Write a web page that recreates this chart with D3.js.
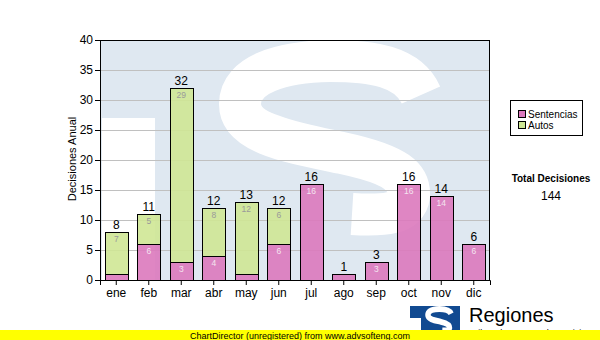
<!DOCTYPE html>
<html><head><meta charset="utf-8">
<script src="https://cdn.jsdelivr.net/npm/d3@7"></script>
<style>body{margin:0;background:#fff}svg{display:block}text{font-family:"Liberation Sans",Arial,sans-serif}</style>
</head><body><svg id="c" width="600" height="340"></svg>
<script>
const months = ["ene","feb","mar","abr","may","jun","jul","ago","sep","oct","nov","dic"];
const sentencias = [1,6,3,4,1,6,16,1,3,16,14,6];
const autos = [7,5,29,8,12,6,0,0,0,0,0,0];
const yTicks = [0,5,10,15,20,25,30,35,40];
const seriesNames = ["Sentencias","Autos"];
const totalLabel = "Total Decisiones";

const svg = d3.select("#c");
const L=100,R=490,T=40,B=280;
const x = d3.scaleBand().domain(months).range([L,R]).paddingInner(0.28).paddingOuter(0.14);
const y = d3.scaleLinear().domain([0,40]).range([B,T]);
const pink="#dc79bd", green="#cfe795";

// watermark
svg.append("clipPath").attr("id","pc").append("rect").attr("x",L).attr("y",T).attr("width",R-L).attr("height",B-T);
const wm = svg.append("g").attr("clip-path","url(#pc)");
wm.append("rect").attr("x",L).attr("y",T).attr("width",R-L).attr("height",B-T).attr("fill","#dfe8f1");
wm.append("rect").attr("x",L+2).attr("y",118).attr("width",53).attr("height",170).attr("fill","#fff");
const sPath="M421,95 C408,66 372,61 330,61 C282,62 240,74 240,104 C240,134 290,142 342,153 C398,165 410,178 409,196 C407,214 384,216 352,214";
wm.append("path").attr("d",sPath).attr("fill","none").attr("stroke","#fff").attr("stroke-width",42);

// grid
svg.append("g").selectAll("line").data(yTicks.filter(d=>d>0&&d<40)).join("line")
  .attr("x1",L).attr("x2",R).attr("y1",d=>y(d)+0.5).attr("y2",d=>y(d)+0.5)
  .attr("stroke","#c0c0c0").attr("stroke-width",1);

// bars
const data = months.map((m,i)=>({m,s:sentencias[i],a:autos[i],t:sentencias[i]+autos[i]}));
const g = svg.append("g");
data.forEach(d=>{
  const bx=Math.round(x(d.m))+0.5, bw=Math.round(x.bandwidth());
  if(d.a>0){
    g.append("rect").attr("x",bx).attr("y",Math.round(y(d.s+d.a))+0.5).attr("width",bw)
      .attr("height",Math.round(y(d.s))-Math.round(y(d.s+d.a))).attr("fill",green).attr("fill-opacity",0.9).attr("stroke","#000");
  }
  g.append("rect").attr("x",bx).attr("y",Math.round(y(d.s))+0.5).attr("width",bw)
    .attr("height",Math.round(y(0))-Math.round(y(d.s))).attr("fill",pink).attr("fill-opacity",0.9).attr("stroke","#000");
  const cx=x(d.m)+x.bandwidth()/2;
  if(d.s>=3) g.append("text").attr("x",cx).attr("y",y(d.s)+10).attr("text-anchor","middle")
    .attr("font-size",8.5).attr("fill","#f4e4f0").text(d.s);
  if(d.a>=3) g.append("text").attr("x",cx).attr("y",y(d.s+d.a)+10).attr("text-anchor","middle")
    .attr("font-size",8.5).attr("fill","#9a9a9a").text(d.a);
  g.append("text").attr("x",cx).attr("y",y(d.t)-3).attr("text-anchor","middle")
    .attr("font-size",12).attr("fill","#000").text(d.t);
});

// frame
svg.append("rect").attr("x",L+0.5).attr("y",T+0.5).attr("width",R-L-1).attr("height",B-T).attr("fill","none").attr("stroke","#000");

// axes
const ya = svg.append("g").attr("transform",`translate(${L},0)`).call(d3.axisLeft(y).tickValues(yTicks).tickSize(5).tickPadding(2));
const xa = svg.append("g").attr("transform",`translate(0,${B})`).call(d3.axisBottom(x).tickSize(5).tickPadding(3));
[ya,xa].forEach(a=>{a.select(".domain").attr("stroke","#000");a.selectAll("line").attr("stroke","#000");
  a.selectAll("text").attr("font-size",12).attr("fill","#000").attr("font-family","Liberation Sans, Arial, sans-serif");});

svg.append("text").attr("transform","translate(76,159) rotate(-90)").attr("text-anchor","middle")
  .attr("font-size",11).text("Decisiones Anual");

// legend
const lg = svg.append("g");
lg.append("rect").attr("x",510.5).attr("y",100.5).attr("width",72).attr("height",35).attr("fill","#fff").attr("stroke","#000");
[pink,green].forEach((c,i)=>{
  lg.append("rect").attr("x",518.5).attr("y",110.5+i*11).attr("width",7).attr("height",7).attr("fill",c).attr("stroke","#000");
  lg.append("text").attr("x",528).attr("y",118+i*11).attr("font-size",10).text(seriesNames[i]);
});

svg.append("text").attr("x",551).attr("y",182).attr("text-anchor","middle").attr("font-size",10).attr("font-weight","bold").text(totalLabel);
svg.append("text").attr("x",551).attr("y",200).attr("text-anchor","middle").attr("font-size",12).text(d3.sum(data,d=>d.t));

// logo
const lo = svg.append("g");
lo.append("rect").attr("x",410).attr("y",306).attr("width",50).attr("height",34).attr("fill","#114a91");
lo.append("rect").attr("x",410).attr("y",318).attr("width",11).attr("height",22).attr("fill","#fff");
lo.append("path").attr("d",sPath).attr("fill","none").attr("stroke","#fff").attr("stroke-width",42)
  .attr("transform","translate(410,306) scale(0.128,0.14) translate(-100,-40)");
lo.append("text").attr("x",469).attr("y",322).attr("font-size",20).text("Regiones");
lo.append("text").attr("x",470).attr("y",336).attr("font-size",9).text("Tribunal Supremo de Justicia");

svg.append("rect").attr("x",0).attr("y",330).attr("width",600).attr("height",10).attr("fill","#ffff00");
svg.append("text").attr("x",190).attr("y",338.5).attr("font-size",9.5).attr("textLength",220).attr("lengthAdjust","spacingAndGlyphs")
  .text("ChartDirector (unregistered) from www.advsofteng.com");
</script></body></html>
